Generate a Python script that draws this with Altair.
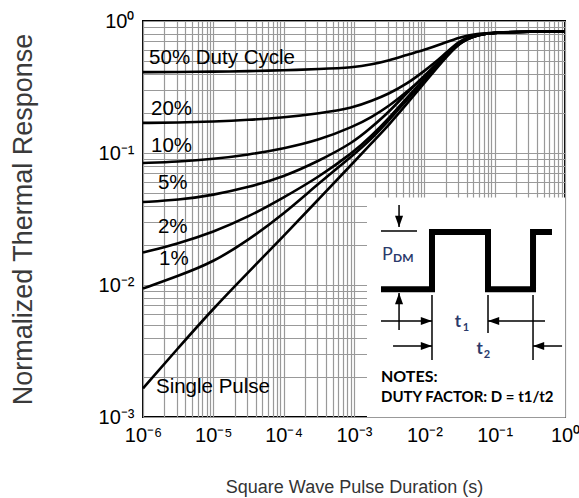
import altair as alt
import pandas as pd

# ---- transient thermal response curves -------------------------------------
# pulse durations (s), a quarter/half decade apart
pulse_s = [1e-6, 3.16e-6, 1e-5, 3.16e-5, 1e-4, 3.16e-4, 1e-3, 1.78e-3, 3.16e-3,
           5.62e-3, 1e-2, 1.78e-2, 3.16e-2, 5.62e-2, 1e-1, 3.16e-1, 1.0]

duty_50 = [0.41, 0.411, 0.413, 0.417, 0.423, 0.432, 0.445, 0.468, 0.502,
           0.553, 0.603, 0.67, 0.755, 0.80, 0.82, 0.83, 0.83]
duty_20 = [0.169, 0.17, 0.173, 0.178, 0.186, 0.199, 0.221, 0.248, 0.282,
           0.333, 0.418, 0.533, 0.72, 0.79, 0.818, 0.83, 0.83]
duty_10 = [0.084, 0.086, 0.09, 0.097, 0.108, 0.125, 0.159, 0.187, 0.227,
           0.29, 0.377, 0.507, 0.71, 0.788, 0.818, 0.83, 0.83]
duty_5 = [0.0425, 0.044, 0.048, 0.055, 0.066, 0.087, 0.121, 0.157, 0.205,
          0.285, 0.383, 0.52, 0.70, 0.787, 0.818, 0.83, 0.83]
duty_2 = [0.0176, 0.0206, 0.0252, 0.0328, 0.046, 0.0658, 0.102, 0.135, 0.184,
          0.261, 0.364, 0.507, 0.70, 0.786, 0.818, 0.83, 0.83]
duty_1 = [0.0094, 0.0117, 0.0149, 0.0219, 0.0345, 0.059, 0.0974, 0.128, 0.178,
          0.252, 0.351, 0.497, 0.695, 0.785, 0.818, 0.83, 0.83]
single_pulse = [0.00165, 0.00333, 0.00664, 0.01254, 0.0235, 0.0448, 0.0855, 0.119, 0.164,
                0.235, 0.339, 0.489, 0.69, 0.785, 0.818, 0.83, 0.83]

series = {"50%": duty_50, "20%": duty_20, "10%": duty_10, "5%": duty_5,
          "2%": duty_2, "1%": duty_1, "single": single_pulse}

# curve labels, placed on the chart's own axes
label_text = ["50% Duty Cycle", "20%", "10%", "5%", "2%", "1%", "Single Pulse"]
label_t = [1.22e-6, 1.30e-6, 1.30e-6, 1.63e-6, 1.63e-6, 1.69e-6, 1.53e-6]
label_v = [0.525, 0.215, 0.113, 0.0593, 0.0275, 0.0157, 0.00169]

# ---- inset: pulse-train definition sketch ----------------------------------
box_t = [1.53e-3, 1.0]
box_v = [1e-3, 0.046]

wave_t = [2.42e-3, 1.285e-2, 1.285e-2, 8.04e-2, 8.04e-2, 0.351, 0.351, 0.653]
wave_v = [9.3e-3, 9.3e-3, 2.52e-2, 2.52e-2, 9.3e-3, 9.3e-3, 2.52e-2, 2.52e-2]

seg_t = [4.37e-3, 2.42e-3, 4.37e-3, 1.285e-2, 8.04e-2, 0.351, 2.42e-3, 0.52, 3.59e-3, 0.908]
seg_t2 = [4.37e-3, 7.87e-3, 4.37e-3, 1.285e-2, 8.04e-2, 0.351, 1.285e-2, 8.04e-2, 1.285e-2, 0.351]
seg_v = [0.0404, 0.0256, 0.00869, 0.0084, 0.0084, 0.0084, 0.00533, 0.00533, 0.00345, 0.00345]
seg_v2 = [0.0275, 0.0256, 0.00456, 0.0027, 0.00433, 0.0027, 0.00533, 0.00533, 0.00345, 0.00345]

head_t = [4.37e-3, 4.37e-3, 1.285e-2, 8.04e-2, 1.285e-2, 0.351]
head_v = [0.0275, 0.00869, 0.00533, 0.00533, 0.00345, 0.00345]
head_dir = ["down", "up", "right", "left", "right", "left"]
head_path = {
    "right": "M0,0L-1,-0.36L-1,0.36Z",
    "left": "M0,0L1,-0.36L1,0.36Z",
    "down": "M0,0L-0.36,-1L0.36,-1Z",
    "up": "M0,0L-0.36,1L0.36,1Z",
}

note_text = ["P", "DM", "t", "1", "t", "2", "NOTES:", "DUTY FACTOR: D = t1/t2"]
note_t = [2.5e-3, 3.59e-3, 0.0301, 0.0392, 0.061, 0.0778, 2.42e-3, 2.42e-3]
note_v = [0.0169, 0.0160, 0.00525, 0.00472, 0.00327, 0.00295, 0.00201, 0.00142]
note_size = [18, 12, 17, 11, 17, 11, 16, 15]
note_color = ["#2b3a6b"] * 6 + ["black", "black"]
note_align = ["left", "left", "center", "center", "center", "center", "left", "left"]
note_bold = [False, True, True, True, True, True, True, True]

# ---- axes ------------------------------------------------------------------
decade_labels = ["10⁻⁶", "10⁻⁵", "10⁻⁴", "10⁻³", "10⁻²", "10⁻¹", "10⁰"]
mantissas = [1, 2, 3, 4, 5, 6, 7, 8, 9]
x_grid = [m * 10.0 ** k for k in range(-6, 0) for m in mantissas] + [1.0]
y_grid = [m * 10.0 ** k for k in range(-3, 0) for m in mantissas] + [1.0]

exp_expr = "round(log(datum.value)/LN10)"
label_expr = (
    f"abs(log(datum.value)/LN10 - {exp_expr}) < 0.01 ? "
    f"[{','.join(repr(s) for s in decade_labels)}][{exp_expr} + 6] : ''"
)

W, H = 422, 396
FONT = "Liberation Sans"

x_scale = alt.Scale(type="log", domain=[1e-6, 1.0], nice=False)
y_scale = alt.Scale(type="log", domain=[1e-3, 1.0], nice=False)

x_axis = alt.Axis(
    values=x_grid, labelExpr=label_expr, grid=True, ticks=False, domain=False,
    labelFontSize=20, labelFont=FONT, labelColor="black", labelPadding=8,
    labelFlush=False, labelOverlap=False,
    title="Square Wave Pulse Duration (s)", titleFont=FONT, titleFontSize=18,
    titleFontWeight="normal", titleColor="#333333",
    titleX=W / 2, titleY=70, titleAlign="center", titleBaseline="middle",
)
y_axis = alt.Axis(
    values=y_grid, labelExpr=label_expr, grid=True, ticks=False, domain=False,
    labelFontSize=20, labelFont=FONT, labelColor="black", labelPadding=9,
    labelFlush=False, labelOverlap=False,
    title="Normalized Thermal Response", titleFont=FONT, titleFontSize=27,
    titleFontWeight="normal", titleColor="#3a3a3a",
    titleX=-120, titleY=H / 2, titleAngle=-90, titleAlign="center",
    titleBaseline="middle",
)


def X(field="t"):
    return alt.X(f"{field}:Q", scale=x_scale, axis=x_axis)


def Y(field="v"):
    return alt.Y(f"{field}:Q", scale=y_scale, axis=y_axis)


curves = pd.DataFrame(
    [{"series": name, "t": t, "v": v, "i": i}
     for name, vals in series.items() for i, (t, v) in enumerate(zip(pulse_s, vals))]
)
labels = pd.DataFrame({"t": label_t, "v": label_v, "text": label_text})
box = pd.DataFrame({"t": [box_t[0]], "t2": [box_t[1]], "v": [box_v[0]], "v2": [box_v[1]]})
wave = pd.DataFrame({"t": wave_t, "v": wave_v, "i": list(range(len(wave_t)))})
segs = pd.DataFrame({"t": seg_t, "t2": seg_t2, "v": seg_v, "v2": seg_v2})
heads = pd.DataFrame({"t": head_t, "v": head_v, "shape": [head_path[d] for d in head_dir]})
notes = pd.DataFrame({"t": note_t, "v": note_v, "text": note_text, "size": note_size,
                      "color": note_color, "align": note_align, "bold": note_bold})

white_box = alt.Chart(box).mark_rect(color="white").encode(
    x=X(), x2="t2:Q", y=Y(), y2="v2:Q")

lines = alt.Chart(curves).mark_line(
    color="black", strokeWidth=2.6, interpolate="basis").encode(
    x=X(), y=Y(), detail="series:N", order="i:Q")

curve_labels = alt.Chart(labels).mark_text(
    align="left", baseline="middle", font=FONT, fontSize=20.5, color="black").encode(
    x=X(), y=Y(), text="text:N")

pulse = alt.Chart(wave).mark_line(
    color="black", strokeWidth=6, strokeJoin="miter", strokeCap="butt").encode(
    x=X(), y=Y(), order="i:Q")

rules = alt.Chart(segs).mark_rule(color="black", strokeWidth=1.5).encode(
    x=X(), x2="t2:Q", y=Y(), y2="v2:Q")

arrows = alt.Chart(heads).mark_point(
    filled=True, color="black", opacity=1, size=500, strokeWidth=0).encode(
    x=X(), y=Y(), shape=alt.Shape("shape:N", scale=None))


def note_layer(align, bold):
    sub = notes[(notes["align"] == align) & (notes["bold"] == bold)]
    return alt.Chart(sub).mark_text(
        align=align, baseline="middle", font="Lato",
        fontWeight="bold" if bold else "normal").encode(
        x=X(), y=Y(), text="text:N",
        size=alt.Size("size:Q", scale=None, legend=None),
        color=alt.Color("color:N", scale=None, legend=None))


chart = alt.layer(
    white_box, lines, curve_labels, pulse, rules, arrows,
    note_layer("left", False), note_layer("left", True), note_layer("center", True),
).properties(
    width=W, height=H,
    autosize=alt.AutoSizeParams(type="none"),
    padding={"left": 143, "top": 21, "right": 14, "bottom": 81},
).configure_view(
    stroke="black", strokeWidth=2
).configure_axis(
    gridColor="#999999", gridWidth=1.2, gridOpacity=1
)

chart.save("out.html", embed_options={"renderer": "svg", "actions": False})
